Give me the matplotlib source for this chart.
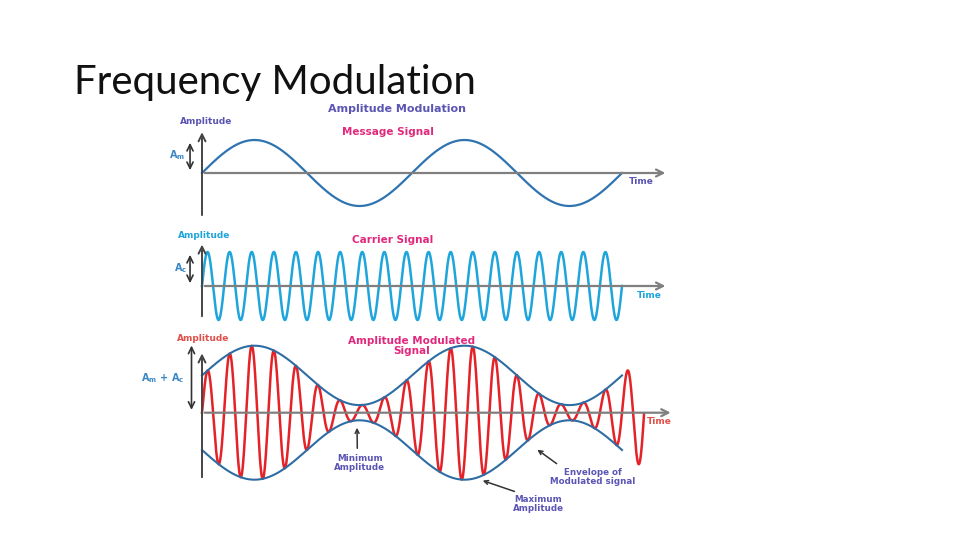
import numpy as np
import matplotlib.pyplot as plt

W, H = 960, 540

msg_periods = 2.0        # message wave: two full periods
msg_amp = 1.0
carrier_cycles = 19      # carrier cycles over the same span
carrier_amp = 1.0
carrier_span = 2.0
carrier_per_msg = carrier_cycles / carrier_span
env_span = 2.0           # envelope drawn over two message periods
am_span = 2.105          # red wave runs a little past the envelope
env_mean = 1.13
env_depth = 0.9

# colours
axis_grey = '#7f7f7f'
msg_blue = '#2f74b0'
carrier_cyan = '#1ea5dc'
am_red = '#e42227'
env_blue = '#2e6da4'
label_purple = '#5b55b4'
label_magenta = '#e2287c'
label_blue = '#3c86c4'
label_red = '#e0504a'

fig = plt.figure(figsize=(9.6, 5.4), dpi=100)


def panel(x0, y0, sx, sy, top, bottom, left=120, right=720):
	# axes laid out in pixels; x0, y0 is the origin, sx, sy pixels per unit
	ax = fig.add_axes([left / W, 1 - bottom / H, (right - left) / W, (bottom - top) / H])
	ax.set_xlim((left - x0) / sx, (right - x0) / sx)
	ax.set_ylim((y0 - bottom) / sy, (y0 - top) / sy)
	ax.axis('off')
	return ax


def axes_arrows(ax, t_end, y_top, y_bot):
	ax.annotate('', xy=(t_end, 0), xytext=(0, 0),
				arrowprops=dict(arrowstyle='->,head_length=0.5,head_width=0.25', color=axis_grey, lw=1.6))
	ax.annotate('', xy=(0, y_top), xytext=(0, y_bot),
				arrowprops=dict(arrowstyle='->,head_length=0.5,head_width=0.25', color='#444444', lw=1.4))


def amp_arrow(ax, t, top):
	ax.annotate('', xy=(t, top), xytext=(t, 0),
				arrowprops=dict(arrowstyle='<->,head_length=0.45,head_width=0.22', color='#333333', lw=1.2))


fig.text(74 / W, 1 - 94 / H, 'Frequency Modulation', fontsize=29, family='Lato',
		 fontweight='normal', va='baseline', ha='left', color='#111111')

# ---- message signal
ax1 = panel(202, 173, 210, 33, 100, 222)
t = np.linspace(0, msg_periods, 600)
ax1.plot(t, msg_amp * np.sin(2 * np.pi * t), color=msg_blue, lw=1.6)
axes_arrows(ax1, 2.22, 1.32, -1.36)
amp_arrow(ax1, -0.057, msg_amp)
ax1.text(0.93, 1.94, 'Amplitude Modulation', color=label_purple, fontsize=8, fontweight='bold', ha='center', va='center')
ax1.text(0.886, 1.24, 'Message Signal', color=label_magenta, fontsize=7.5, fontweight='bold', ha='center', va='center')
ax1.text(0.02, 1.55, 'Amplitude', color=label_purple, fontsize=6.5, fontweight='bold', ha='center', va='center')
ax1.text(-0.12, 0.55, r'A$_{\mathregular{m}}$', color=label_blue, fontsize=7, fontweight='bold', ha='center', va='center')
ax1.text(2.09, -0.27, 'Time', color=label_purple, fontsize=6.5, fontweight='bold', ha='center', va='center')

# ---- carrier signal
ax2 = panel(202, 286, 210, 34, 225, 330)
t = np.linspace(0, carrier_span, 3000)
ax2.plot(t, carrier_amp * np.sin(2 * np.pi * carrier_per_msg * t), color=carrier_cyan, lw=1.8)
axes_arrows(ax2, 2.22, 1.30, -0.97)
amp_arrow(ax2, -0.057, carrier_amp)
ax2.text(0.91, 1.35, 'Carrier Signal', color=label_magenta, fontsize=7.5, fontweight='bold', ha='center', va='center')
ax2.text(0.01, 1.50, 'Amplitude', color=carrier_cyan, fontsize=6.5, fontweight='bold', ha='center', va='center')
ax2.text(-0.10, 0.53, r'A$_{\mathregular{c}}$', color=label_blue, fontsize=7, fontweight='bold', ha='center', va='center')
ax2.text(2.13, -0.27, 'Time', color=carrier_cyan, fontsize=6.5, fontweight='bold', ha='center', va='center')

# ---- amplitude modulated signal
ax3 = panel(202, 412.7, 210, 33, 330, 520)
t = np.linspace(0, am_span, 4000)
env = env_mean + env_depth * np.sin(2 * np.pi * t)
ax3.plot(t, env * np.sin(2 * np.pi * carrier_per_msg * t), color=am_red, lw=1.8)
te = np.linspace(0, env_span, 600)
env_e = env_mean + env_depth * np.sin(2 * np.pi * te)
ax3.plot(te, env_e, color=env_blue, lw=1.5)
ax3.plot(te, -env_e, color=env_blue, lw=1.5)
axes_arrows(ax3, 2.245, 1.88, -2.04)
amp_arrow(ax3, -0.05, 2.12)
ax3.text(0.005, 2.25, 'Amplitude', color=label_red, fontsize=6.5, fontweight='bold', ha='center', va='center')
ax3.text(1.0, 2.03, 'Amplitude Modulated\nSignal', color=label_magenta, fontsize=7.5, fontweight='bold',
		 ha='center', va='center', linespacing=1.05)
ax3.text(-0.186, 1.05, r'A$_{\mathregular{m}}$ + A$_{\mathregular{c}}$', color=label_blue, fontsize=7,
		 fontweight='bold', ha='center', va='center')
ax3.text(2.18, -0.27, 'Time', color=label_red, fontsize=6.5, fontweight='bold', ha='center', va='center')

arrow_kw = dict(arrowstyle='->,head_length=0.45,head_width=0.22', color='#333333', lw=1.1)
ax3.annotate('Minimum\nAmplitude', xy=(0.738, -0.37), xytext=(0.752, -1.52), color=label_purple,
			 fontsize=6.3, fontweight='bold', ha='center', va='center', linespacing=1.0,
			 arrowprops=dict(arrow_kw, relpos=(0.45, 1.0)))
ax3.annotate('Envelope of\nModulated signal', xy=(1.586, -1.07), xytext=(1.86, -1.95), color=label_purple,
			 fontsize=6.3, fontweight='bold', ha='center', va='center', linespacing=1.0,
			 arrowprops=dict(arrow_kw, relpos=(0.15, 1.0)))
ax3.annotate('Maximum\nAmplitude', xy=(1.324, -2.03), xytext=(1.60, -2.77), color=label_purple,
			 fontsize=6.3, fontweight='bold', ha='center', va='center', linespacing=1.0,
			 arrowprops=dict(arrow_kw, relpos=(0.25, 1.0)))

fig.savefig('out.png', dpi=100, facecolor='white')
